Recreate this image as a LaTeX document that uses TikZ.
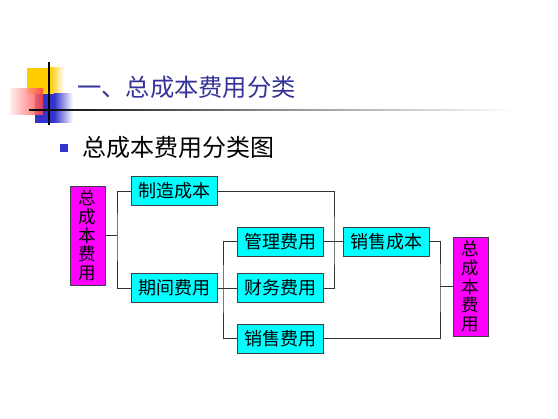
\documentclass[tikz,border=0pt]{standalone}
\usepackage{fontspec}
\setmainfont{Noto Sans CJK SC}
\usepackage{xcolor}
\usepackage{tikz}
\usetikzlibrary{positioning,calc}
\definecolor{titleblue}{HTML}{333399}
\definecolor{bulletblue}{HTML}{3333CC}
\definecolor{decoyellow}{HTML}{FFCC00}
\definecolor{boxcyan}{HTML}{00FFFF}
\definecolor{boxmagenta}{HTML}{FF00FF}
\tikzset{
  costbox/.style={draw=black!75,fill=boxcyan,inner sep=0pt,align=center,
    minimum width=86pt,minimum height=29pt,font=\fontsize{18}{19}\selectfont},
  totalbox/.style={draw=black!75,fill=boxmagenta,inner sep=0pt,align=center,
    minimum width=35pt,minimum height=99pt,font=\fontsize{17.5}{18.7}\selectfont},
  linkline/.style={draw=black!80,line width=0.9pt}
}

\begin{document}
\begin{tikzpicture}[x=1pt,y=-1pt]
  \useasboundingbox (0,0) rectangle (558,419);
  % corner decoration
  \fill[decoyellow] (27,68) rectangle (50,94);
  \shade[left color=decoyellow,right color=white] (50,68) rectangle (64,94);
  \fill[bulletblue] (35,94) rectangle (54,123);
  \shade[left color=bulletblue,right color=white] (54,94) rectangle (73,123);
  \shade[left color=red!8,right color=red!75,opacity=0.85] (10,89) rectangle (43,115);
  \draw[black,line width=1.3pt] (49,62) -- (49,125);
  \shade[left color=black,right color=white,middle color=black!45] (29,109.4) rectangle (515,110.8);
  % headings
  \node[anchor=west,text=titleblue,font=\fontsize{24.3}{26}\selectfont,inner sep=0pt]
    (title) at (77,87) {一、总成本费用分类};
  \fill[bulletblue] (60,144) rectangle (68,152);
  \node[anchor=west,font=\fontsize{24}{26}\selectfont,inner sep=0pt]
    (subtitle) at (82,147) {总成本费用分类图};
  % boxes
  \node[totalbox] (totalL) at (87.5,235.5) {总\\成\\本\\费\\用};
  \node[costbox] (zhizao) at (174,191) {制造成本};
  \node[costbox] (qijian) at (174,288) {期间费用};
  \node[costbox] (guanli) at (280,241.5) {管理费用};
  \node[costbox] (caiwu) at (280,288) {财务费用};
  \node[costbox] (xiaofei) at (280,338.5) {销售费用};
  \node[costbox] (xiaocb) at (386,241.5) {销售成本};
  \node[totalbox] (totalR) at (470.5,286.5) {总\\成\\本\\费\\用};
  % joints
  \coordinate (jA) at (117,235.5);
  \coordinate (jB) at (223,288);
  \coordinate (jC) at (334,241.5);
  \coordinate (jD) at (440,286.5);
  % connectors
  \draw[linkline] (totalL.east) -- (jA);
  \draw[linkline] (zhizao.west) -| (jA) |- (qijian.west);
  \draw[linkline] (qijian.east) -- (caiwu.west);
  \draw[linkline] (guanli.west) -| (jB) |- (xiaofei.west);
  \draw[linkline] (zhizao.east) -| (jC) |- (caiwu.east);
  \draw[linkline] (guanli.east) -- (xiaocb.west);
  \draw[linkline] (xiaocb.east) -| (jD) |- (xiaofei.east);
  \draw[linkline] (jD) -- (totalR.west);
\end{tikzpicture}
\end{document}
